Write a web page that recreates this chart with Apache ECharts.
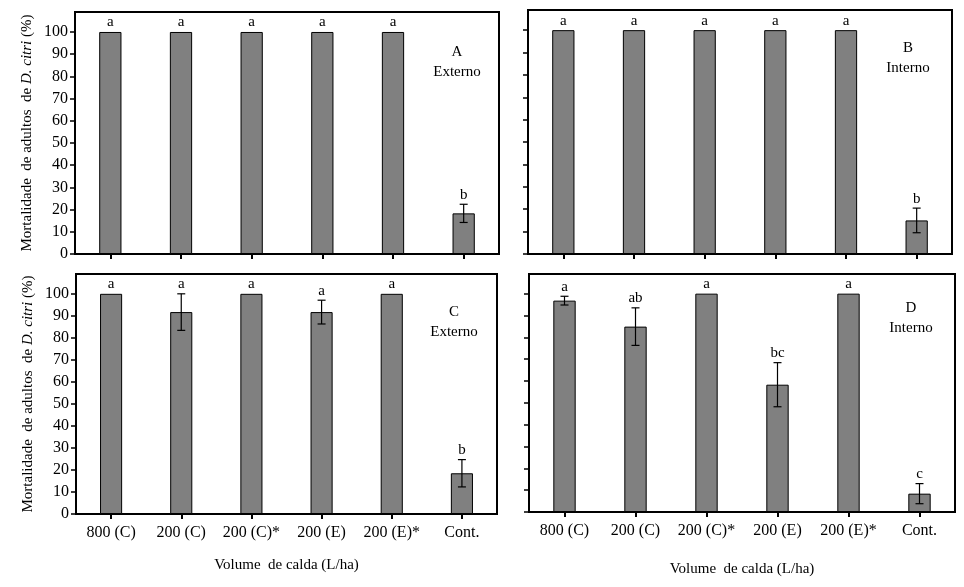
<!DOCTYPE html>
<html>
<head>
<meta charset="utf-8">
<script src="https://cdn.jsdelivr.net/npm/echarts@6/dist/echarts.min.js"></script>
<style>
html,body{margin:0;padding:0;background:#fff;}
#chart{width:964px;height:587px;}
</style>
</head>
<body>
<div id="chart"></div>
<script>
const categories = ['800 (C)', '200 (C)', '200 (C)*', '200 (E)', '200 (E)*', 'Cont.'];
const yTicks = [0, 10, 20, 30, 40, 50, 60, 70, 80, 90, 100];

const meanA = [100, 100, 100, 100, 100, 18.3];
const errA = [0, 0, 0, 0, 0, 4.1];
const letterA = ['a', 'a', 'a', 'a', 'a', 'b'];

const meanB = [100, 100, 100, 100, 100, 15];
const errB = [0, 0, 0, 0, 0, 5.5];
const letterB = ['a', 'a', 'a', 'a', 'a', 'b'];

const meanC = [100, 91.7, 100, 91.7, 100, 18.5];
const errC = [0, 8.3, 0, 5.4, 0, 6.2];
const letterC = ['a', 'a', 'a', 'a', 'a', 'b'];

const meanD = [96.8, 84.9, 100, 58.3, 100, 8.4];
const errD = [2, 8.6, 0, 10.1, 0, 4.6];
const letterD = ['a', 'ab', 'a', 'bc', 'a', 'c'];

const panelNames = ['A\nExterno', 'B\nInterno', 'C\nExterno', 'D\nInterno'];
const yTitle = '{n|Mortalidade  de adultos  de }{i|D. citri}{n| (%)}';
const xTitle = 'Volume  de calda (L/ha)';

const FONT = 'Liberation Serif';
const panels = [
  {mean: meanA, err: errA, letters: letterA},
  {mean: meanB, err: errB, letters: letterB},
  {mean: meanC, err: errC, letters: letterC},
  {mean: meanD, err: errD, letters: letterD}
];
const grids = [
  {left: 75, top: 12, width: 424, height: 242},
  {left: 528, top: 10, width: 424, height: 244},
  {left: 76, top: 274, width: 421, height: 240},
  {left: 529, top: 274, width: 426, height: 238}
];
const titlePos = [
  {left: 452, top: 37},
  {left: 903, top: 33},
  {left: 449, top: 297},
  {left: 906, top: 293}
];

const chart = echarts.init(document.getElementById('chart'));

const xAxes = [], yAxes = [], series = [], titles = [];
panels.forEach((p, k) => {
  const bottomRow = k >= 2;
  const leftCol = k % 2 === 0;
  xAxes.push({
    type: 'category', gridIndex: k, data: categories,
    axisLine: {lineStyle: {color: '#000', width: 2}},
    axisTick: {show: true, alignWithLabel: true, length: 5, lineStyle: {color: '#000', width: 2}},
    axisLabel: {show: bottomRow, color: '#000', fontFamily: FONT, fontSize: 16, margin: 11, interval: 0},
    name: bottomRow ? xTitle : '', nameLocation: 'middle', nameGap: k === 2 ? 44 : 50,
    nameTextStyle: {color: '#000', fontFamily: FONT, fontSize: 15}
  });
  yAxes.push({
    type: 'value', gridIndex: k, min: 0, max: 109,
    axisLine: {show: true, lineStyle: {color: '#000', width: 2}},
    axisTick: {show: true, length: 5, lineStyle: {color: '#000', width: 1.5}, customValues: yTicks},
    axisLabel: {show: leftCol, color: '#000', fontFamily: FONT, fontSize: 16, margin: 7, customValues: yTicks},
    splitLine: {show: false},
    name: leftCol ? yTitle : '', nameLocation: 'middle', nameGap: 40,
    nameTextStyle: {color: '#000', fontFamily: FONT, fontSize: 15,
      rich: {n: {fontFamily: FONT, fontSize: 15, color: '#000'},
             i: {fontFamily: FONT, fontSize: 15, color: '#000', fontStyle: 'italic'}}}
  });
  series.push({
    type: 'bar', xAxisIndex: k, yAxisIndex: k, data: p.mean, barWidth: '31.5%',
    itemStyle: {color: '#808080', borderColor: '#000', borderWidth: 1},
    silent: true, animation: false
  });
  series.push({
    type: 'custom', xAxisIndex: k, yAxisIndex: k, z: 5, animation: false, silent: true,
    data: p.mean.map((m, i) => [i, m, p.err[i]]),
    renderItem: function (params, api) {
      const i = api.value(0), m = api.value(1), e = api.value(2);
      const hi = api.coord([i, m + e]);
      const lo = api.coord([i, m - e]);
      const children = [];
      const cap = 4;
      if (e > 0) {
        const ls = {stroke: '#000', lineWidth: 1.2};
        children.push({type: 'line', shape: {x1: hi[0], y1: hi[1], x2: lo[0], y2: lo[1]}, style: ls});
        children.push({type: 'line', shape: {x1: hi[0] - cap, y1: hi[1], x2: hi[0] + cap, y2: hi[1]}, style: ls});
        children.push({type: 'line', shape: {x1: lo[0] - cap, y1: lo[1], x2: lo[0] + cap, y2: lo[1]}, style: ls});
      }
      children.push({type: 'text', style: {
        text: p.letters[params.dataIndex], x: hi[0], y: hi[1] - 2,
        align: 'center', verticalAlign: 'bottom',
        fontFamily: FONT, fontSize: 15, fill: '#000'}});
      return {type: 'group', children: children};
    }
  });
  titles.push({
    text: panelNames[k], left: titlePos[k].left, top: titlePos[k].top, textAlign: 'center',
    textStyle: {fontFamily: FONT, fontSize: 15, fontWeight: 'normal', color: '#000', lineHeight: 20, align: 'center'}
  });
});

chart.setOption({
  animation: false,
  backgroundColor: '#fff',
  title: titles,
  grid: grids.map(g => Object.assign({show: true, borderColor: '#000', borderWidth: 2, backgroundColor: 'transparent'}, g)),
  xAxis: xAxes,
  yAxis: yAxes,
  series: series
});
</script>
</body>
</html>
